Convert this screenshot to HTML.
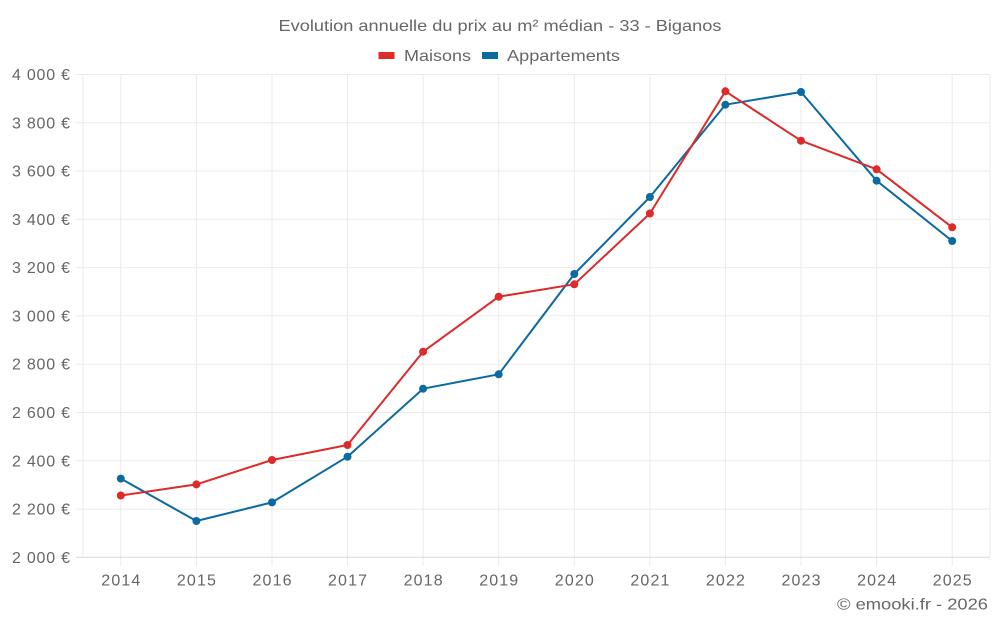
<!DOCTYPE html>
<html><head><meta charset="utf-8"><style>
html,body{margin:0;padding:0;background:#fff;}
svg{display:block;font-family:"Liberation Sans",Arial,sans-serif;}
</style></head><body>
<svg width="1000" height="625" viewBox="0 0 1000 625" xmlns="http://www.w3.org/2000/svg">
<rect width="1000" height="625" fill="#fff"/>
<text x="500" y="31" text-anchor="middle" font-size="16" fill="#666" textLength="443" lengthAdjust="spacingAndGlyphs">Evolution annuelle du prix au m² médian - 33 - Biganos</text>
<rect x="378.5" y="52" width="16" height="7" fill="#dd2a2a"/>
<text x="404" y="61" font-size="16" fill="#666" textLength="67" lengthAdjust="spacingAndGlyphs">Maisons</text>
<rect x="482" y="52" width="16" height="7" fill="#0a6aa1"/>
<text x="507" y="61" font-size="16" fill="#666" textLength="113" lengthAdjust="spacingAndGlyphs">Appartements</text>
<g stroke="#ebebeb" stroke-width="1">
<line x1="76" y1="74.5" x2="990" y2="74.5"/>
<line x1="76" y1="122.8" x2="990" y2="122.8"/>
<line x1="76" y1="171" x2="990" y2="171"/>
<line x1="76" y1="219.3" x2="990" y2="219.3"/>
<line x1="76" y1="267.6" x2="990" y2="267.6"/>
<line x1="76" y1="315.9" x2="990" y2="315.9"/>
<line x1="76" y1="364.2" x2="990" y2="364.2"/>
<line x1="76" y1="412.5" x2="990" y2="412.5"/>
<line x1="76" y1="460.8" x2="990" y2="460.8"/>
<line x1="76" y1="509.1" x2="990" y2="509.1"/>
<line x1="120.8" y1="74" x2="120.8" y2="566"/>
<line x1="196.4" y1="74" x2="196.4" y2="566"/>
<line x1="272" y1="74" x2="272" y2="566"/>
<line x1="347.5" y1="74" x2="347.5" y2="566"/>
<line x1="423.1" y1="74" x2="423.1" y2="566"/>
<line x1="498.7" y1="74" x2="498.7" y2="566"/>
<line x1="574.3" y1="74" x2="574.3" y2="566"/>
<line x1="649.9" y1="74" x2="649.9" y2="566"/>
<line x1="725.4" y1="74" x2="725.4" y2="566"/>
<line x1="801" y1="74" x2="801" y2="566"/>
<line x1="876.6" y1="74" x2="876.6" y2="566"/>
<line x1="952.2" y1="74" x2="952.2" y2="566"/>
<line x1="990" y1="74" x2="990" y2="557"/>
<line x1="83" y1="74" x2="83" y2="557"/>
</g>
<line x1="76" y1="557.3" x2="990" y2="557.3" stroke="#d9d9d9" stroke-width="1"/>
<g font-size="16" fill="#666" text-anchor="end" lengthAdjust="spacingAndGlyphs">
<text x="70" y="80" textLength="58">4 000 €</text>
<text x="70" y="128.3" textLength="58">3 800 €</text>
<text x="70" y="176.5" textLength="58">3 600 €</text>
<text x="70" y="224.8" textLength="58">3 400 €</text>
<text x="70" y="273.1" textLength="58">3 200 €</text>
<text x="70" y="321.4" textLength="58">3 000 €</text>
<text x="70" y="369.7" textLength="58">2 800 €</text>
<text x="70" y="418" textLength="58">2 600 €</text>
<text x="70" y="466.3" textLength="58">2 400 €</text>
<text x="70" y="514.6" textLength="58">2 200 €</text>
<text x="70" y="562.8" textLength="58">2 000 €</text>
</g>
<g font-size="16" fill="#666" text-anchor="middle" lengthAdjust="spacingAndGlyphs">
<text x="120.8" y="585.5" textLength="39">2014</text>
<text x="196.4" y="585.5" textLength="39">2015</text>
<text x="272" y="585.5" textLength="39">2016</text>
<text x="347.5" y="585.5" textLength="39">2017</text>
<text x="423.1" y="585.5" textLength="39">2018</text>
<text x="498.7" y="585.5" textLength="39">2019</text>
<text x="574.3" y="585.5" textLength="39">2020</text>
<text x="649.9" y="585.5" textLength="39">2021</text>
<text x="725.4" y="585.5" textLength="39">2022</text>
<text x="801" y="585.5" textLength="39">2023</text>
<text x="876.6" y="585.5" textLength="39">2024</text>
<text x="952.2" y="585.5" textLength="39">2025</text>
</g>
<text x="988" y="609.5" font-size="16" fill="#666" text-anchor="end" textLength="151" lengthAdjust="spacingAndGlyphs">© emooki.fr - 2026</text>
<g fill="#0a6aa1">
<polyline fill="none" stroke="#0a6aa1" stroke-width="2" stroke-linejoin="round" points="120.8,478.6 196.4,521 272,502.4 347.5,456.7 423.1,388.7 498.7,374.3 574.3,274 649.9,197 725.4,104.7 801,92 876.6,180.7 952.2,241"/>
<circle cx="120.8" cy="478.6" r="4"/><circle cx="196.4" cy="521" r="4"/><circle cx="272" cy="502.4" r="4"/><circle cx="347.5" cy="456.7" r="4"/><circle cx="423.1" cy="388.7" r="4"/><circle cx="498.7" cy="374.3" r="4"/><circle cx="574.3" cy="274" r="4"/><circle cx="649.9" cy="197" r="4"/><circle cx="725.4" cy="104.7" r="4"/><circle cx="801" cy="92" r="4"/><circle cx="876.6" cy="180.7" r="4"/><circle cx="952.2" cy="241" r="4"/>
</g>
<g fill="#dd2a2a">
<polyline fill="none" stroke="#dd2a2a" stroke-width="2" stroke-linejoin="round" points="120.8,495.5 196.4,484.4 272,460 347.5,445 423.1,351.7 498.7,296.7 574.3,284.3 649.9,213.5 725.4,91.3 801,140.7 876.6,169.3 952.2,227.3"/>
<circle cx="120.8" cy="495.5" r="4"/><circle cx="196.4" cy="484.4" r="4"/><circle cx="272" cy="460" r="4"/><circle cx="347.5" cy="445" r="4"/><circle cx="423.1" cy="351.7" r="4"/><circle cx="498.7" cy="296.7" r="4"/><circle cx="574.3" cy="284.3" r="4"/><circle cx="649.9" cy="213.5" r="4"/><circle cx="725.4" cy="91.3" r="4"/><circle cx="801" cy="140.7" r="4"/><circle cx="876.6" cy="169.3" r="4"/><circle cx="952.2" cy="227.3" r="4"/>
</g>
</svg>
</body></html>
